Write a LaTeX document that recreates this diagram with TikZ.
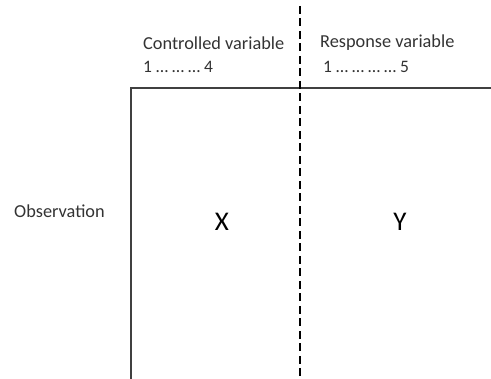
\documentclass[tikz,border=0pt]{standalone}
\usepackage{fontspec}
\setmainfont{Carlito}
\begin{document}
\begin{tikzpicture}[x=1pt,y=-1pt,
  lbl/.style={inner sep=0pt,anchor=west,font=\fontsize{18.3}{20}\selectfont,text=black!80},
  rng/.style={inner sep=0pt,anchor=west,font=\fontsize{17.5}{20}\selectfont,text=black!80},
  big/.style={inner sep=0pt,font=\fontsize{27}{30}\selectfont},
  frame/.style={line width=1.1pt,draw=black!75},
  divider/.style={line width=1.3pt,dash pattern=on 8pt off 4.5pt}]
\useasboundingbox (0,0) rectangle (491,379);
% grid corners
\coordinate (tl) at (131,88);
\coordinate (tr) at (491,88);
\coordinate (bl) at (131,379);
\coordinate (dtop) at (300,6);
\coordinate (dbot) at (300,379);
% frame and divider
\draw[frame] (bl) -- (tl) -- (tr);
\draw[divider] (dtop) -- (dbot);
% column headings
\node[lbl] (cv) at (143,43) {Controlled variable};
\node[rng] (cvr) at (143,67) {1 … … … 4};
\node[lbl] (rv) at (320,43) {Response variable};
\node[rng] (rvr) at (323,67) {1 … … … … 5};
% row heading and cell contents
\node[lbl] (obs) at (14,211) {Observation};
\node[big] (x) at (222,222) {X};
\node[big] (y) at (400,222) {Y};
\end{tikzpicture}
\end{document}
